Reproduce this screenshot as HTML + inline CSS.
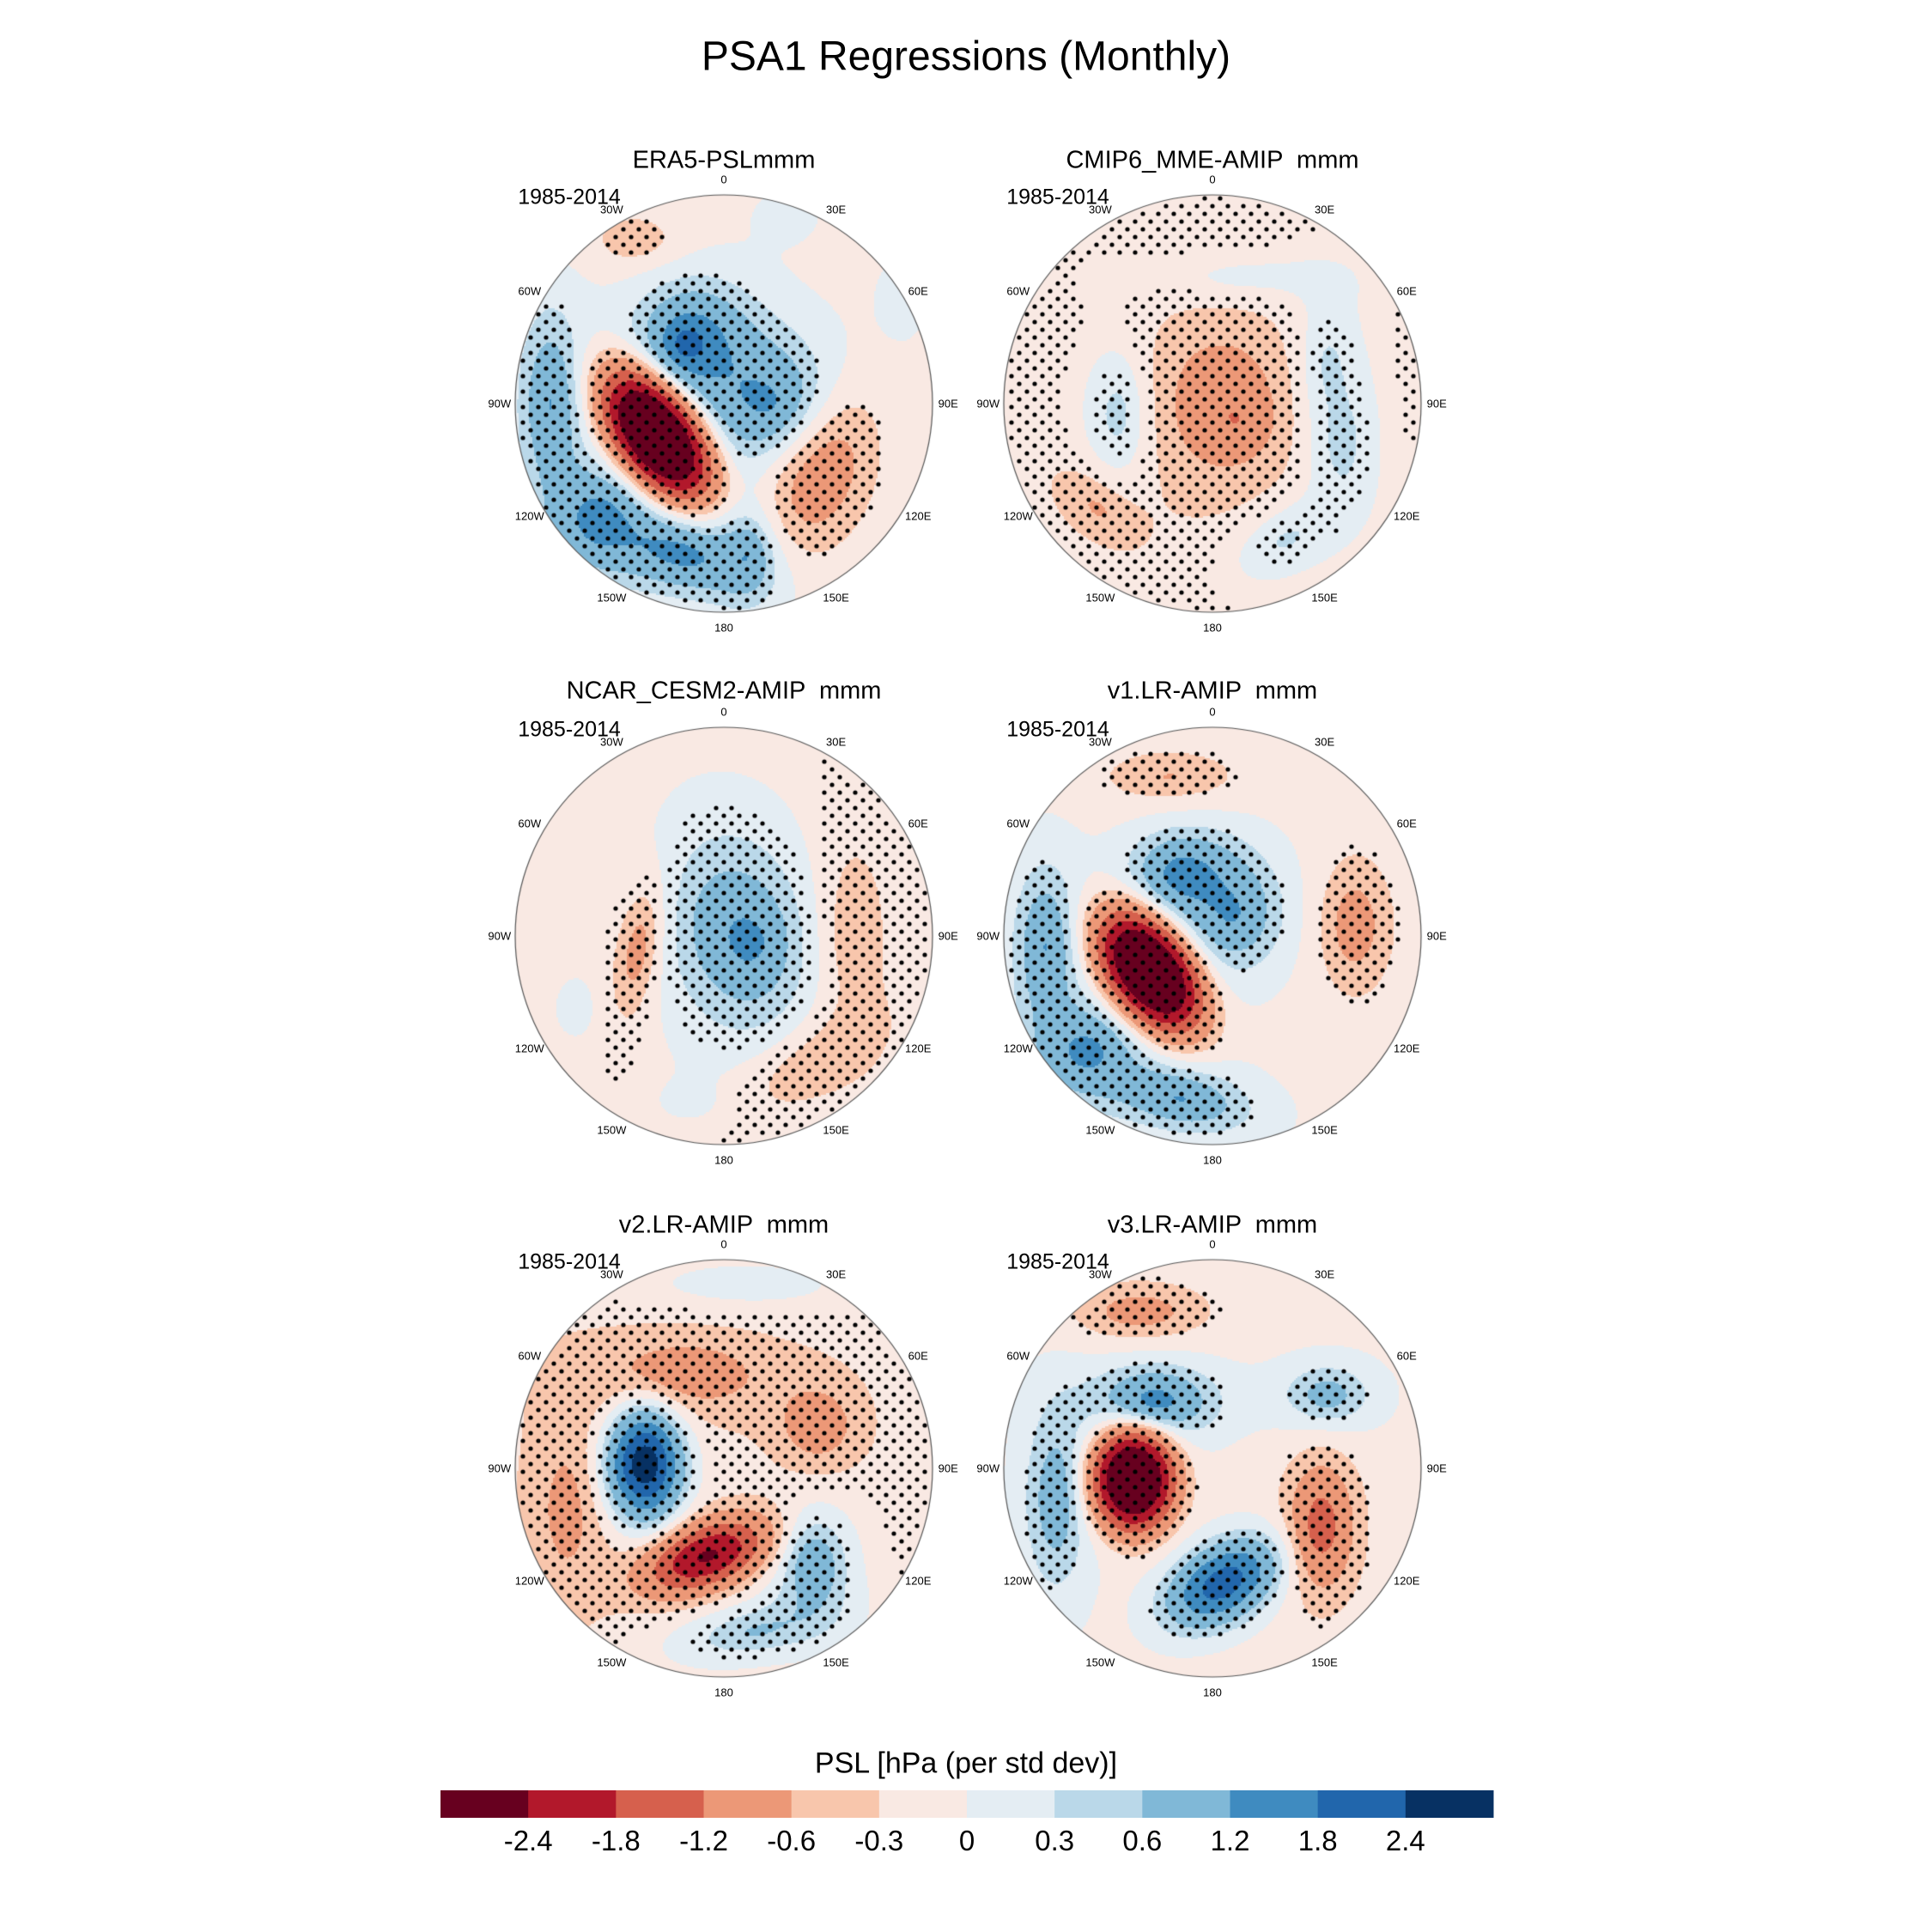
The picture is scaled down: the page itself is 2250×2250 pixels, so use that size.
<!DOCTYPE html>
<html><head><meta charset="utf-8">
<style>
html,body{margin:0;padding:0;background:#fff;}
#root{position:relative;width:2250px;height:2250px;overflow:hidden;font-family:"Liberation Sans",sans-serif;color:#000;}
.t{position:absolute;white-space:pre;transform:translate(-50%,-50%);}
canvas{position:absolute;}
</style></head>
<body>
<div id="root">
<div class="t" style="left:1125px;top:66px;font-size:48px;">PSA1 Regressions (Monthly)</div>
<div class="t" style="left:1125px;top:2054px;font-size:34px;">PSL [hPa (per std dev)]</div>
<svg id="cbar" style="position:absolute;left:0;top:0" width="2250" height="2250"></svg>
</div>
<script>
// colorbar data
const levels = [-2.4,-1.8,-1.2,-0.6,-0.3,0,0.3,0.6,1.2,1.8,2.4];
const levelLabels = ["-2.4","-1.8","-1.2","-0.6","-0.3","0","0.3","0.6","1.2","1.8","2.4"];
const levelColors = ["#67001f","#b2182b","#d6604d","#ec9877","#f8c6ac","#f9e9e3","#e4edf3","#bad8e9","#80b8d7","#3f8bc0","#2166ac","#073163"];
// panels
const panelTitles = ["ERA5-PSLmmm","CMIP6_MME-AMIP  mmm","NCAR_CESM2-AMIP  mmm","v1.LR-AMIP  mmm","v2.LR-AMIP  mmm","v3.LR-AMIP  mmm"];
const panelPeriod = "1985-2014";
const panelBase = [-0.1,-0.14,-0.12,-0.1,-0.18,-0.1];
const stippleThr = [0.25,0.12,0.12,0.25,0.15,0.25];
// blobs: [u, v, sx, sy, rotDeg, amp, shapeExponent] in units of map radius
const blobs0 = [[-0.32,0.15,0.2,0.36,-35,-3.8,2.5],[-0.15,-0.3,0.25,0.25,0,1.6,1.5],[0.22,0.0,0.3,0.28,0,1.4,1.5],[-0.2,-0.28,0.1,0.12,0,0.6,1.5],[-0.83,0.0,0.14,0.4,0,1.3,1.5],[-0.6,0.55,0.2,0.22,0,1.4,1.5],[-0.2,0.72,0.32,0.17,15,1.5,1.5],[0.12,0.72,0.12,0.2,0,0.9,1.5],[0.46,0.3,0.24,0.4,20,-1.0,2],[-0.42,-0.78,0.2,0.12,0,-0.5,1.5],[0.3,-0.9,0.15,0.12,0,0.25,1.5],[0.85,-0.5,0.12,0.2,0,0.25,1.5]];
const blobs1 = [[0.04,0.0,0.38,0.42,0,-0.8,1.5],[0.12,0.08,0.12,0.12,0,-0.4,1.5],[-0.45,0.05,0.15,0.3,0,0.75,1.5],[0.55,-0.2,0.15,0.3,0,0.55,1.5],[0.62,0.2,0.15,0.3,0,0.6,1.5],[0.35,0.65,0.25,0.15,-30,0.55,1.5],[0.15,-0.6,0.45,0.12,0,0.35,1.5],[-0.55,0.5,0.22,0.13,40,-0.55,1.5]];
const blobs2 = [[0.08,0.0,0.32,0.45,-15,1.3,1.5],[0.14,0.03,0.1,0.12,0,0.4,1.5],[-0.41,0.06,0.1,0.3,10,-0.9,1.5],[0.6,0.0,0.18,0.45,0,-0.55,1.5],[0.4,0.62,0.35,0.17,-30,-0.55,1.5],[-0.7,0.35,0.15,0.2,0,0.2,1.5],[-0.15,0.8,0.2,0.12,0,0.2,1.5]];
const blobs3 = [[-0.3,0.17,0.2,0.33,-35,-3.6,2.5],[-0.15,-0.3,0.22,0.18,0,1.5,1.5],[0.1,-0.1,0.22,0.25,0,1.2,1.5],[-0.8,0.05,0.14,0.35,0,1.3,1.5],[-0.6,0.55,0.22,0.2,0,1.4,1.5],[-0.15,0.78,0.3,0.14,10,1.3,1.5],[0.68,-0.05,0.15,0.27,0,-0.85,1.5],[-0.2,-0.76,0.3,0.12,0,-0.55,1.5]];
const blobs4 = [[-0.38,-0.02,0.17,0.25,0,3.0,2],[-0.08,0.42,0.3,0.15,-20,-2.3,2],[-0.2,-0.45,0.4,0.18,0,-0.8,1.5],[0.45,-0.2,0.18,0.18,0,-0.8,1.5],[-0.75,0.2,0.18,0.45,0,-0.6,1.5],[0.43,0.46,0.15,0.22,0,1.3,1.5],[0.15,0.78,0.35,0.13,-10,0.8,1.5],[0.1,-0.88,0.5,0.12,0,0.35,1.5]];
const blobs5 = [[-0.38,0.05,0.2,0.25,0,-3.4,2.5],[0.05,0.55,0.28,0.17,-30,2.2,2],[-0.75,0.15,0.14,0.4,0,1.1,1.5],[-0.28,-0.32,0.25,0.15,0,1.7,1.5],[0.55,-0.35,0.2,0.14,0,1.0,1.5],[0.52,0.28,0.14,0.27,0,-1.6,1.5],[-0.35,-0.75,0.28,0.12,0,-0.8,1.5]];
const allBlobs = [blobs0,blobs1,blobs2,blobs3,blobs4,blobs5];
const lonLabels = ["0","30E","60E","90E","120E","150E","180","150W","120W","90W","60W","30W"];

const root = document.getElementById('root');
const R = 243, colX = [843,1412], rowY = [470,1090,1710];
const titleY = [187,805,1427];

function colorFor(v){let i=0;while(i<levels.length&&v>=levels[i])i++;return levelColors[i];}
function field(bl,base,u,v){let f=base;for(const b of bl){const du=u-b[0],dv=v-b[1],t=b[4]*Math.PI/180;const a=du*Math.cos(t)+dv*Math.sin(t),c=-du*Math.sin(t)+dv*Math.cos(t);const q=a*a/(b[2]*b[2])+c*c/(b[3]*b[3]);f+=b[5]*Math.exp(-Math.pow(q,b[6]/2));}return f;}

allBlobs.forEach((bl,p)=>{
  const cx=colX[p%2], cy=rowY[Math.floor(p/2)];
  const t=document.createElement('div');t.className='t';
  t.style.left=cx+'px';t.style.top=titleY[Math.floor(p/2)]+'px';t.style.fontSize='29px';t.textContent=panelTitles[p];
  
  
  root.appendChild(t);
  const per=document.createElement('div');per.className='t';
  per.style.left=(cx-180)+'px';per.style.top=(cy-240)+'px';per.style.fontSize='25px';per.textContent=panelPeriod;
  
  
  root.appendChild(per);
  const cv=document.createElement('canvas');cv.width=2*R+4;cv.height=2*R+4;
  cv.style.left=(cx-R-2)+'px';cv.style.top=(cy-R-2)+'px';
  
  
  root.appendChild(cv);
  const g=cv.getContext('2d');const o=R+2;
  g.save();g.beginPath();g.arc(o,o,R,0,2*Math.PI);g.clip();
  const st=2;
  for(let y=-R;y<R;y+=st)for(let x=-R;x<R;x+=st){
    const f=field(bl,panelBase[p],(x+1)/R,(y+1)/R);
    g.fillStyle=colorFor(f);g.fillRect(o+x,o+y,st,st);
  }
  g.fillStyle='#000';
  const hx=18, vy=9;let row=0;
  for(let y=-R+4;y<R;y+=vy,row++){for(let x=-R+(row%2?hx/2:0);x<R;x+=hx){
    if(x*x+y*y>(R-3)*(R-3))continue;
    const f=field(bl,panelBase[p],x/R,y/R);
    if(Math.abs(f)>stippleThr[p]){g.beginPath();g.arc(o+x,o+y,2.6,0,2*Math.PI);g.fill();}
  }}
  g.restore();
  g.strokeStyle='#555';g.lineWidth=1.2;g.beginPath();g.arc(o,o,R,0,2*Math.PI);g.stroke();
  lonLabels.forEach((lab,k)=>{
    const a=k*30*Math.PI/180, rr=R*1.075;
    const l=document.createElement('div');l.className='t';
    l.style.left=(cx+rr*Math.sin(a))+'px';l.style.top=(cy-rr*Math.cos(a))+'px';l.style.fontSize='13px';l.textContent=lab;
    
    
    root.appendChild(l);
  });
});

// colorbar
const svg=document.getElementById('cbar');const NS='http://www.w3.org/2000/svg';
const bx0=513,bx1=1739,by=2085,bh=32,bw=(bx1-bx0)/levelColors.length;
levelColors.forEach((c,i)=>{
  const r=document.createElementNS(NS,'rect');
  r.setAttribute('x',bx0+i*bw);r.setAttribute('y',by);r.setAttribute('width',bw+0.5);r.setAttribute('height',bh);r.setAttribute('fill',c);
  
  
  svg.appendChild(r);
});
levelLabels.forEach((lab,i)=>{
  const tx=document.createElementNS(NS,'text');
  tx.setAttribute('x',bx0+(i+1)*bw);tx.setAttribute('y',2155);tx.setAttribute('text-anchor','middle');
  tx.setAttribute('font-size','33');tx.setAttribute('font-family','Liberation Sans, sans-serif');
  tx.textContent=lab;
  
  
  svg.appendChild(tx);
});
</script>
</body></html>
